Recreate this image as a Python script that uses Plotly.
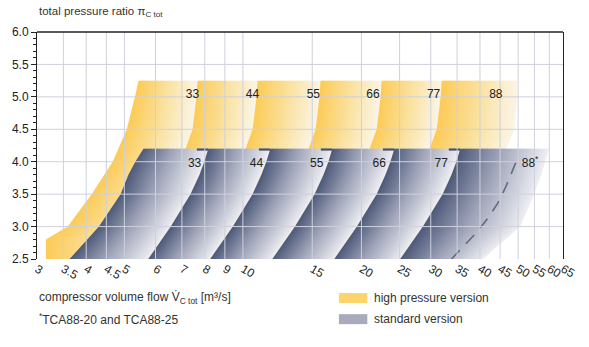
import numpy as np
import plotly.graph_objects as go

# ---- axes -------------------------------------------------------------
x_ticks = [3, 3.5, 4, 4.5, 5, 6, 7, 8, 9, 10, 15, 20, 25, 30, 35, 40, 45, 50, 55, 60, 65]
y_min, y_max = 2.5, 6.0

frames = ["33", "44", "55", "66", "77", "88"]

# ---- standard version: surge-side flow [m3/s] at each pressure ratio ----
std_pi = [2.5, 3.0, 3.5, 3.8, 4.0, 4.2]
std_left_33 = [3.63, 4.31, 4.89, 5.12, 5.33, 5.59]
std_left_44 = [5.75, 6.56, 7.36, 7.76, 7.98, 8.17]
std_left_55 = [8.26, 9.43, 10.58, 11.14, 11.47, 11.74]
std_left_66 = [11.88, 13.56, 15.21, 16.02, 16.49, 16.87]
std_left_77 = [17.07, 19.48, 21.86, 23.02, 23.69, 24.25]
std_left_88 = [25.09, 28.65, 32.15, 33.86, 34.84, 35.65]
std_right_88 = [40.7, 50.6, 54.9, 57.2, 58.5, 59.9]

# TCA88 choke limit without the -20 / -25 variants
dash_pi = [2.5, 2.7, 2.9, 3.13, 3.36, 3.61, 3.87, 4.05]
dash_flow = [33.86, 36.28, 39.1, 41.9, 44.4, 46.5, 48.4, 49.8]

# ---- high pressure version ---------------------------------------------
hp_pi = [2.5, 2.8, 3.0, 3.5, 4.0, 4.5, 5.0, 5.25]
hp_left_33 = [3.16, 3.16, 3.59, 4.13, 4.67, 5.07, 5.32, 5.43]
hp_left_44 = [5.43, 5.68, 5.88, 6.38, 6.95, 7.45, 7.62, 7.67]
hp_left_55 = [7.71, 8.07, 8.36, 9.06, 9.88, 10.58, 10.83, 10.89]
hp_left_66 = [11.15, 11.67, 12.08, 13.10, 14.28, 15.30, 15.65, 15.74]
hp_left_77 = [15.93, 16.68, 17.27, 18.71, 20.40, 21.86, 22.37, 22.50]
hp_left_88 = [22.63, 23.69, 24.53, 26.59, 28.98, 31.06, 31.78, 31.96]
hp_right_88 = [34.84, 36.49, 37.99, 41.41, 45.15, 48.94, 49.79, 49.6]

# ---- frame size labels ---------------------------------------------------
hp_label_flow = [7.45, 10.58, 15.1, 21.4, 30.5, 43.9]
hp_label_pi = 5.03
std_label_flow = [7.54, 10.83, 15.4, 22.2, 31.9, 53.6]
std_label_pi = 3.96
std_label_text = ["33", "44", "55", "66", "77", "88<sup>*</sup>"]

# ---- colours ---------------------------------------------------------------
STD_STOPS = [(0.0, (78, 90, 122)), (0.45, (158, 163, 184)), (1.0, (238, 238, 243))]
HP_STOPS = [(0.0, (252, 203, 86)), (0.5, (250, 225, 158)), (1.0, (251, 245, 231))]
GRID = "rgb(206,209,220)"
INK = "#222"


def mix(stops, t):
    for (t0, c0), (t1, c1) in zip(stops[:-1], stops[1:]):
        if t <= t1:
            u = (t - t0) / (t1 - t0)
            return "rgb(%d,%d,%d)" % tuple(round(a + (b - a) * u) for a, b in zip(c0, c1))
    return "rgb(%d,%d,%d)" % stops[-1][1]


def add_band(fig, pi, left, right, stops, n=34):
    """Fill the region between two boundary lines with a shaded gradient
    running from the left (dark) boundary to the right (light) one."""
    pi = np.asarray(pi, float)
    lo, hi = np.log10(left), np.log10(right)
    for i in range(n):
        ta = i / n
        tb = min(1.0, (i + 1.6) / n)
        xa = 10 ** (lo + (hi - lo) * ta)
        xb = 10 ** (lo + (hi - lo) * tb)
        fig.add_trace(go.Scatter(
            x=np.concatenate([xa, xb[::-1]]),
            y=np.concatenate([pi, pi[::-1]]),
            mode="lines", fill="toself", fillcolor=mix(stops, (i + 0.5) / n),
            line=dict(width=0), hoverinfo="skip", showlegend=False))


fig = go.Figure()

hp_edges = [hp_left_33, hp_left_44, hp_left_55, hp_left_66, hp_left_77, hp_left_88, hp_right_88]
for k in range(len(frames)):
    add_band(fig, hp_pi, hp_edges[k], hp_edges[k + 1], HP_STOPS)

std_edges = [std_left_33, std_left_44, std_left_55, std_left_66, std_left_77, std_left_88, std_right_88]
for k in range(len(frames)):
    add_band(fig, std_pi, std_edges[k], std_edges[k + 1], STD_STOPS)

# short dark lip along the top edge where each standard map begins
lx, ly = [], []
for edge in std_edges[1:-1]:
    lx += [edge[-1] * 0.935, edge[-1], None]
    ly += [std_pi[-1] - 0.012, std_pi[-1] - 0.012, None]
fig.add_trace(go.Scatter(x=lx, y=ly, mode="lines",
                         line=dict(color="rgb(72,82,110)", width=2.2),
                         hoverinfo="skip", showlegend=False))

fig.add_trace(go.Scatter(x=dash_flow, y=dash_pi, mode="lines",
                         line=dict(color="rgb(100,106,124)", width=1.6, dash="12px,9px"),
                         hoverinfo="skip", showlegend=False))

# grid drawn on top of the shaded areas
gx, gy = [], []
for v in x_ticks[1:-1]:
    gx += [v, v, None]
    gy += [y_min, y_max, None]
for h in np.arange(3.0, 5.51, 0.5):
    gx += [x_ticks[0], x_ticks[-1], None]
    gy += [h, h, None]
fig.add_trace(go.Scatter(x=gx, y=gy, mode="lines", line=dict(color=GRID, width=1),
                         hoverinfo="skip", showlegend=False))

fig.add_trace(go.Scatter(x=hp_label_flow, y=[hp_label_pi] * len(frames), mode="text",
                         text=frames, textfont=dict(size=12, color=INK),
                         hoverinfo="skip", showlegend=False))
fig.add_trace(go.Scatter(x=std_label_flow, y=[std_label_pi] * len(frames), mode="text",
                         text=std_label_text, textfont=dict(size=12, color=INK),
                         hoverinfo="skip", showlegend=False))

fig.update_layout(
    width=589, height=347,
    margin=dict(l=34, r=20, t=32, b=88),
    paper_bgcolor="white", plot_bgcolor="white",
    showlegend=False,
    font=dict(family="Liberation Sans, Arial, sans-serif", size=12, color=INK),
)
fig.update_xaxes(type="log", range=[np.log10(x_ticks[0]), np.log10(x_ticks[-1])],
                 tickmode="array", tickvals=x_ticks, ticktext=[f"{v:g}" for v in x_ticks],
                 showgrid=False, zeroline=False, showline=False, ticks="",
                 tickfont=dict(size=12, color=INK))
fig.update_yaxes(range=[y_min, y_max], tickmode="linear", tick0=2.5, dtick=0.5,
                 tickformat=".1f", showgrid=False, zeroline=False,
                 showline=True, linecolor=INK, linewidth=1, mirror=True,
                 ticks="outside", ticklen=5, tickcolor=INK, tickwidth=1,
                 minor=dict(tickmode="linear", tick0=2.5, dtick=0.1, ticks="outside",
                            ticklen=3, tickcolor=INK, showgrid=False),
                 tickfont=dict(size=12, color=INK))

# top frame line
fig.add_shape(type="line", xref="paper", yref="paper", x0=0, x1=1, y0=1, y1=1,
              line=dict(color=INK, width=1.5))

TXT = "#333"
fig.add_annotation(text="total pressure ratio π<sub>C tot</sub>", xref="paper", yref="paper",
                   x=0, y=1.09, xanchor="left", yanchor="middle", showarrow=False,
                   font=dict(size=11.5, color=TXT))
fig.add_annotation(text="compressor volume flow V\u0307<sub>C tot</sub> [m³/s]",
                   xref="paper", yref="paper", x=0, y=-0.172, xanchor="left",
                   yanchor="middle", showarrow=False, font=dict(size=12, color=TXT))
fig.add_annotation(text="<sup>*</sup>TCA88-20 and TCA88-25",
                   xref="paper", yref="paper", x=0, y=-0.265, xanchor="left",
                   yanchor="middle", showarrow=False, font=dict(size=12, color=TXT))

# key
key = [("high pressure version", "rgb(253,212,108)", -0.172),
       ("standard version", "rgb(169,171,189)", -0.265)]
for label, col, yc in key:
    fig.add_shape(type="rect", xref="paper", yref="paper", x0=0.574, x1=0.628,
                  y0=yc - 0.022, y1=yc + 0.022, fillcolor=col, line=dict(width=0))
    fig.add_annotation(text=label, xref="paper", yref="paper", x=0.636, y=yc,
                       xanchor="left", yanchor="middle", showarrow=False,
                       font=dict(size=12, color=TXT))

fig.write_html("out.html")
